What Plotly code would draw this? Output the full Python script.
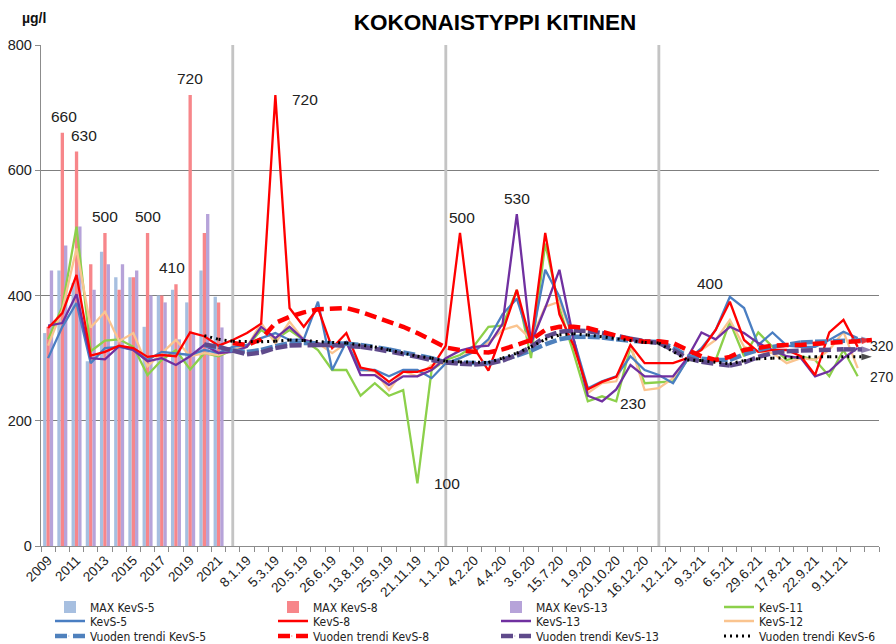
import plotly.graph_objects as go

# ---------------- data ----------------
year_labels = ["2009", "2010", "2011", "2012", "2013", "2014", "2015",
               "2016", "2017", "2018", "2019", "2020", "2021"]

tick_labels = ["2009", "2011", "2013", "2015", "2017", "2019", "2021",
               "8.1.19", "5.3.19", "20.5.19", "26.6.19", "13.8.19", "25.9.19", "21.11.19",
               "1.1.20", "4.2.20", "4.4.20", "3.6.20", "15.7.20", "1.9.20", "20.10.20", "16.12.20",
               "12.1.21", "9.3.21", "6.5.21", "29.6.21", "17.8.21", "22.9.21", "9.11.21"]

max_kevs5 = [340, 440, 420, 295, 470, 429, 429, 350, 400, 409, 389, 440, 398]
max_kevs8 = [350, 660, 630, 450, 500, 409, 429, 500, 400, 418, 720, 500, 389]
max_kevs13 = [440, 480, 510, 409, 450, 450, 440, 400, 389, 330, 340, 530, 349]

separator_idx = [13, 28, 43]
separator_val = [800, 800, 800]

kevs5 = [300, 350, 388, 292, 316, 318, 313, 297, 310, 308, 305, 313, 308, 318, 321, 332, 340, 329, 330, 390,
         281, 326, 281, 281, 271, 281, 281, 268, 292, 300, 310, 330, 370, 395, 324, 441, 398, 330, 252, 263,
         271, 303, 281, 273, 260, 297, 316, 345, 398, 380, 321, 341, 320, 318, 318, 329, 342, 332, None]
kevs8 = [348, 372, 433, 304, 310, 320, 316, 302, 305, 303, 341, 335, 320, 329, 340, 355, 720, 380, 350, 380,
         316, 340, 285, 280, 262, 278, 278, 285, 320, 500, 316, 280, 342, 409, 324, 500, 370, 320, 250, 262,
         270, 321, 292, 292, 292, 300, 313, 345, 390, 329, 310, 313, 313, 303, 273, 341, 361, 318, None]
kevs13 = [352, 356, 402, 300, 298, 319, 313, 295, 300, 289, 303, 321, 308, 310, 318, 350, 332, 350, 329, 324,
          318, 326, 273, 273, 257, 271, 271, 281, 300, 312, 318, 320, 355, 530, 324, 380, 441, 330, 240, 231,
          250, 289, 271, 271, 271, 300, 341, 330, 350, 340, 324, 313, 303, 300, 271, 279, 300, 316, None]
kevs11 = [330, 382, 510, 311, 328, 330, 318, 273, 297, 313, 282, 308, 303, 313, 318, 345, 330, 345, 329, 313,
          281, 281, 240, 260, 240, 249, 100, 281, 297, 305, 320, 350, 352, 409, 300, 483, 380, 308, 231, 239,
          231, 318, 260, 262, 263, 297, 297, 297, 358, 303, 341, 318, 297, 303, 297, 271, 313, 271, None]
kevs12 = [320, 377, 475, 349, 374, 327, 340, 287, 308, 329, 303, 308, 305, 313, 318, 356, 324, 358, 329, 324,
          308, 324, 281, 279, 249, 279, 271, 289, 292, 300, 315, 325, 345, 352, 330, 382, 390, 330, 244, 260,
          263, 321, 249, 252, 268, 297, 313, 329, 361, 318, 310, 308, 292, 300, 297, 313, 342, 284, None]

N0 = None
trend5 = [N0] * 11 + [321, 317, 312, 310, 313, 319, 324, 324, 324, 323, 323, 321, 318, 314, 309, 304, 300,
                      293, 293, 293, 292, 298, 304, 312, 322, 330, 334, 334, 333, 330, 328, 326,
                      326, 317, 303, 299, 297, 297, 306, 313, 318, 322, 325, 326, 327, 328, 329, 329]
trend8 = [N0] * 13 + [324, 321, 330, 356, 366, 373, 378, 379, 380, 374, 366, 358, 350, 340, 329,
                      317, 313, 310, 309, 314, 321, 329, 345, 350, 350, 348, 342, 336, 330, 326,
                      327, 324, 313, 303, 297, 302, 313, 317, 320, 321, 321, 323, 324, 325, 327, 329]
trend13 = [N0] * 11 + [322, 318, 312, 306, 309, 316, 320, 321, 321, 321, 320, 318, 315, 311, 306, 302, 297,
                       293, 291, 290, 291, 296, 305, 318, 334, 342, 344, 343, 340, 335, 331, 327,
                       324, 313, 300, 294, 291, 288, 293, 302, 308, 311, 312, 313, 313, 314, 314, 313]
trend6 = [N0] * 11 + [336, 330, 327, 326, 326, 327, 329, 328, 326, 325, 324, 321, 318, 313, 308, 303, 300,
                      295, 294, 294, 293, 300, 308, 318, 330, 337, 339, 337, 334, 330, 328, 325,
                      324, 310, 297, 296, 293, 291, 296, 299, 300, 301, 302, 302, 302, 302, 302, 302]

# ---------------- figure ----------------
x_all = list(range(len(kevs5)))
x_years = list(range(len(year_labels)))
tick_pos = list(range(0, 2 * len(tick_labels), 2))

fig = go.Figure()

bw = 0.235
fig.add_trace(go.Bar(x=separator_idx, y=separator_val, width=0.2, offset=-0.1,
                     marker=dict(color="#c4c4c4", line=dict(width=0)),
                     showlegend=False, hoverinfo="skip"))

# legend rows: legend (row 1), legend2 (row 2), legend3 (row 3); columns via legendwidth
COLW = 178
LASTW = 128
for name, vals, col, off, rank, lw in [("MAX KevS-5", max_kevs5, "#a7bfe0", -0.35, 1, COLW),
                                        ("MAX KevS-8", max_kevs8, "#f7868a", -0.35 + bw, 2, COLW),
                                        ("MAX KevS-13", max_kevs13, "#b6a3d9", -0.35 + 2 * bw, 3, COLW)]:
    fig.add_trace(go.Bar(x=x_years, y=vals, name=name, width=bw, offset=off,
                         marker=dict(color=col, line=dict(width=0)), legendrank=rank,
                         legend="legend", legendwidth=lw))

lines = [("KevS-11", kevs11, "#8cd04a", 4, "legend", LASTW),
         ("KevS-12", kevs12, "#fac48f", 8, "legend2", LASTW),
         ("KevS-5", kevs5, "#4a7ec2", 5, "legend2", COLW),
         ("KevS-13", kevs13, "#7030a0", 7, "legend2", COLW),
         ("KevS-8", kevs8, "#ff0000", 6, "legend2", COLW)]
for name, vals, col, rank, lg, lw in lines:
    fig.add_trace(go.Scatter(x=x_all, y=vals, name=name, mode="lines",
                             line=dict(color=col, width=2.3), legendrank=rank,
                             legend=lg, legendwidth=lw))

n = len(x_all)
arrow_sizes = [0] * (n - 1) + [11]
trends = [("Vuoden trendi KevS-5", trend5, "#4f81bd", "12px,6px", 4.5, 9, COLW),
          ("Vuoden trendi KevS-13", trend13, "#5f4a8b", "12px,6px", 4.5, 11, COLW),
          ("Vuoden trendi KevS-8", trend8, "#ff0000", "12px,6px", 4.5, 10, COLW),
          ("Vuoden trendi KevS-6", trend6, "#000000", "2px,4px", 3, 12, LASTW)]
for name, vals, col, dash, w, rank, lw in trends:
    fig.add_trace(go.Scatter(x=x_all, y=vals, name=name, mode="lines+markers",
                             line=dict(color=col, width=w, dash=dash),
                             marker=dict(symbol="arrow", angleref="previous", size=arrow_sizes,
                                         color=col, line=dict(width=0)),
                             legendrank=rank, legend="legend3", legendwidth=lw))

# value labels
lab_font = dict(family="Liberation Sans, Arial, sans-serif", size=15.5, color="#222222")
edge_font = dict(family="Liberation Sans, Arial, sans-serif", size=14, color="#222222")
labels = [
    (1 - 0.35 + bw * 1.5, max_kevs8[1], "660", 2, 6, "center", "bottom", lab_font),
    (2 - 0.35 + bw * 1.5, max_kevs8[2], "630", 7, 5, "center", "bottom", lab_font),
    (4 - 0.35 + bw * 1.5, max_kevs8[4], "500", 0, 6, "center", "bottom", lab_font),
    (7 - 0.35 + bw * 1.5, max_kevs8[7], "500", 0, 6, "center", "bottom", lab_font),
    (9 - 0.35 + bw * 1.5, max_kevs8[9], "410", -4, 6, "center", "bottom", lab_font),
    (10 - 0.35 + bw * 1.5, max_kevs8[10], "720", 0, 6, "center", "bottom", lab_font),
    (16, kevs8[16], "720", 15, -4, "left", "middle", lab_font),
    (29, kevs8[29], "500", 2, 5, "center", "bottom", lab_font),
    (33, kevs13[33], "530", 0, 5, "center", "bottom", lab_font),
    (26, kevs11[26], "100", 15, 0, "left", "middle", lab_font),
    (40, kevs11[40], "230", 2, -2, "left", "middle", lab_font),
    (48, kevs5[48], "400", -20, 3, "center", "bottom", lab_font),
    (58, trend8[58], "320", -4, -6, "left", "middle", edge_font),
    (57, kevs11[57], "270", 10, -1, "left", "middle", edge_font),
]
for xv, yv, txt, xs, ys, xa, ya, fnt in labels:
    fig.add_annotation(x=xv, y=yv, xref="x", yref="y", text=txt, showarrow=False,
                       xshift=xs, yshift=ys, xanchor=xa, yanchor=ya, font=fnt)

fig.add_annotation(x=-0.008, y=1.054, xref="paper", yref="paper", text="<b>µg/l</b>",
                   showarrow=False, xanchor="center", yanchor="middle",
                   font=dict(family="Liberation Sans, Arial, sans-serif", size=14, color="#111"))

leg_font = dict(family="Liberation Sans Narrow, DejaVu Sans Condensed, Arial Narrow, sans-serif",
                size=12, color="#222")
plot_h = 644 - 45 - 98
leg_x = (50 - 41) / 838.0


def leg(yc):
    return dict(orientation="h", x=leg_x, xanchor="left", y=-(yc - 546) / plot_h, yanchor="middle",
                entrywidthmode="pixels", font=leg_font, bgcolor="rgba(0,0,0,0)",
                borderwidth=0, tracegroupgap=0)


fig.update_layout(
    width=896, height=644,
    margin=dict(l=41, r=17, t=45, b=98, autoexpand=False),
    paper_bgcolor="white", plot_bgcolor="white",
    barmode="overlay",
    title=dict(text="<b>KOKONAISTYPPI KITINEN</b>", x=0.5525, xanchor="center",
               y=0.966, yanchor="middle",
               font=dict(family="Liberation Sans, Arial, sans-serif", size=22.5, color="#000")),
    showlegend=True,
    legend=leg(607), legend2=leg(621), legend3=leg(636),
    hovermode=False,
)
fig.update_xaxes(range=[-0.5, len(x_all) - 0.5], tickmode="array", tickvals=tick_pos,
                 ticktext=tick_labels, tickangle=-45, ticks="", showgrid=False,
                 showline=True, linecolor="#8c8c8c", linewidth=1.3, zeroline=False,
                 tickfont=dict(family="Liberation Sans, Arial, sans-serif", size=13.5, color="#222"),
                 minor=dict(tickmode="linear", tick0=-0.5, dtick=1, ticks="outside",
                            ticklen=5, tickcolor="#8c8c8c", showgrid=False))
fig.update_yaxes(range=[0, 800], tickvals=[0, 200, 400, 600, 800], showgrid=True,
                 gridcolor="#7f7f7f", gridwidth=1, showline=True, linecolor="#8c8c8c",
                 linewidth=1.3, ticks="outside", ticklen=5, tickcolor="#8c8c8c", zeroline=False,
                 tickfont=dict(family="Liberation Sans, Arial, sans-serif", size=14.5, color="#222"))

fig.write_html("out.html", config={"displayModeBar": False},
               post_script="document.body.style.margin='0px';document.body.style.overflow='hidden';")
